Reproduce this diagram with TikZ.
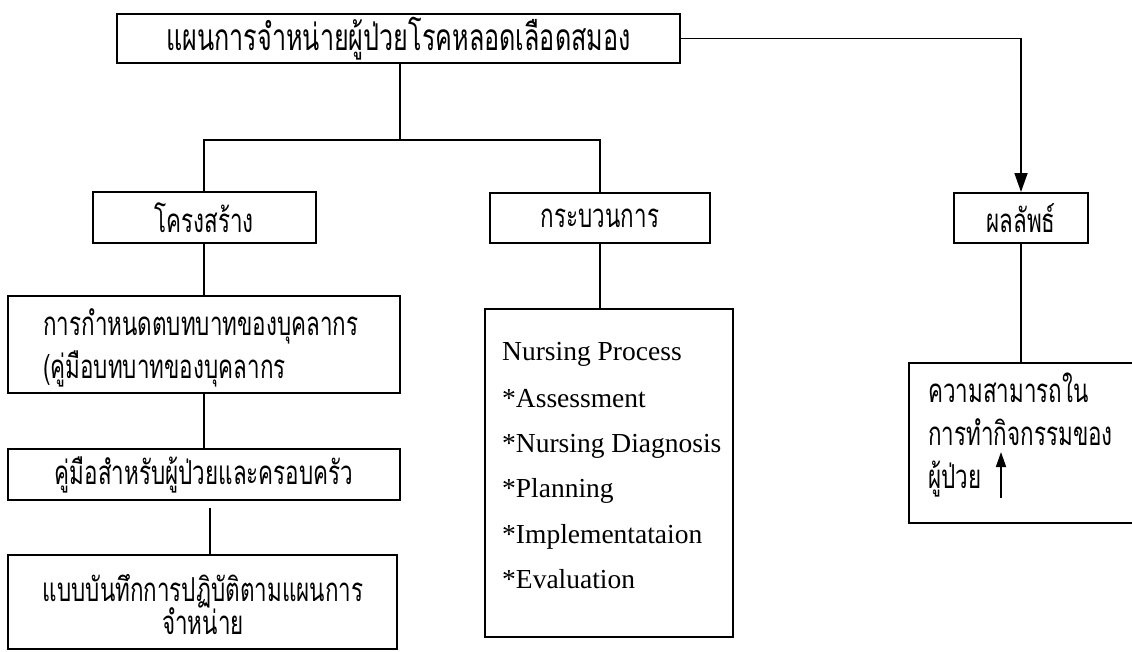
\documentclass[tikz,border=0pt]{standalone}
\usepackage{fontspec}
\setmainfont{Liberation Serif}
\newfontfamily\thaifont[Script=Thai,FakeStretch=0.68]{Loma}
\usetikzlibrary{arrows.meta}
\begin{document}
\begin{tikzpicture}[x=1pt,y=-1pt,
  box/.style={draw, line width=2pt, rectangle, inner sep=0pt},
  th/.style={font=\thaifont\fontsize{33}{43}\selectfont},
  thbig/.style={font=\thaifont\fontsize{37}{43}\selectfont},
  en/.style={font=\fontsize{27.5}{45}\selectfont},
  txt/.style={inner sep=0pt, anchor=base west},
  link/.style={line width=1.7pt},
  tip/.style={-{Triangle[width=13pt,length=19pt]}},
  ]
\useasboundingbox (0,0) rectangle (1132,651);
\clip (0,0) rectangle (1132,651);

% boxes
\node[box, thbig, minimum width=563pt, minimum height=49pt] (plan) at (398.5,38.5) {แผนการจำหน่ายผู้ป่วยโรคหลอดเลือดสมอง};
\node[box, th, minimum width=223pt, minimum height=51pt] (struct) at (204,217.5) {โครงสร้าง};
\node[box, th, minimum width=220pt, minimum height=50pt] (proc) at (600,218) {กระบวนการ};
\node[box, th, minimum width=134pt, minimum height=50pt] (outc) at (1021,218) {ผลลัพธ์};
\node[box, minimum width=392pt, minimum height=97pt] (role) at (204,344.5) {};
\node[box, th, minimum width=392pt, minimum height=51pt] (guide) at (204,474.5) {คู่มือสำหรับผู้ป่วยและครอบครัว};
\node[box, minimum width=389pt, minimum height=94pt] (record) at (202.5,602) {};
\node[box, minimum width=248pt, minimum height=328pt] (nurs) at (609,473) {};
\node[box, minimum width=251pt, minimum height=160pt] (abil) at (1034.5,443) {};

% texts
\node[txt, th] (role1) at (43,335) {การกำหนดตบทบาทของบุคลากร};
\node[txt, th] (role2) at (43,378) {(คู่มือบทบาทของบุคลากร};
\node[th, inner sep=0pt, anchor=base] (rec1) at (203,601) {แบบบันทึกการปฏิบัติตามแผนการ};
\node[th, inner sep=0pt, anchor=base] (rec2) at (203,634) {จำหน่าย};
\node[txt, en] (n1) at (502,360) {Nursing Process};
\node[txt, en] (n2) at (502,407) {*Assessment};
\node[txt, en] (n3) at (502,452) {*Nursing Diagnosis};
\node[txt, en] (n4) at (502,497) {*Planning};
\node[txt, en] (n5) at (502,543) {*Implementataion};
\node[txt, en] (n6) at (502,588) {*Evaluation};
\node[txt, th] (a1) at (928,402) {ความสามารถใน};
\node[txt, th] (a2) at (928,445) {การทำกิจกรรมของ};
\node[txt, th] (a3) at (928,488) {ผู้ป่วย};
\coordinate (upS) at (1001,498);
\coordinate (upE) at (1001,452);
\draw[link, -{Triangle[width=10pt,length=15pt]}] (upS) -- (upE);

% connectors
\coordinate (hub) at (400,140);
\draw[link, tip] (plan.east) -- (plan.east -| outc.north) -- (outc.north);
\draw[link] (plan.south -| hub) -- (hub);
\draw[link] (struct.north) -- (struct.north |- hub) -- (proc.north |- hub) -- (proc.north);
\draw[link] (struct.south) -- (role.north);
\draw[link] (role.south) -- (guide.north);
\draw[link] ([xshift=6pt,yshift=-7pt]guide.south) -- ([xshift=6pt]guide.south |- record.north);
\draw[link] (proc.south) -- (proc.south |- nurs.north);
\draw[link] (outc.south) -- (outc.south |- abil.north);
\end{tikzpicture}
\end{document}
